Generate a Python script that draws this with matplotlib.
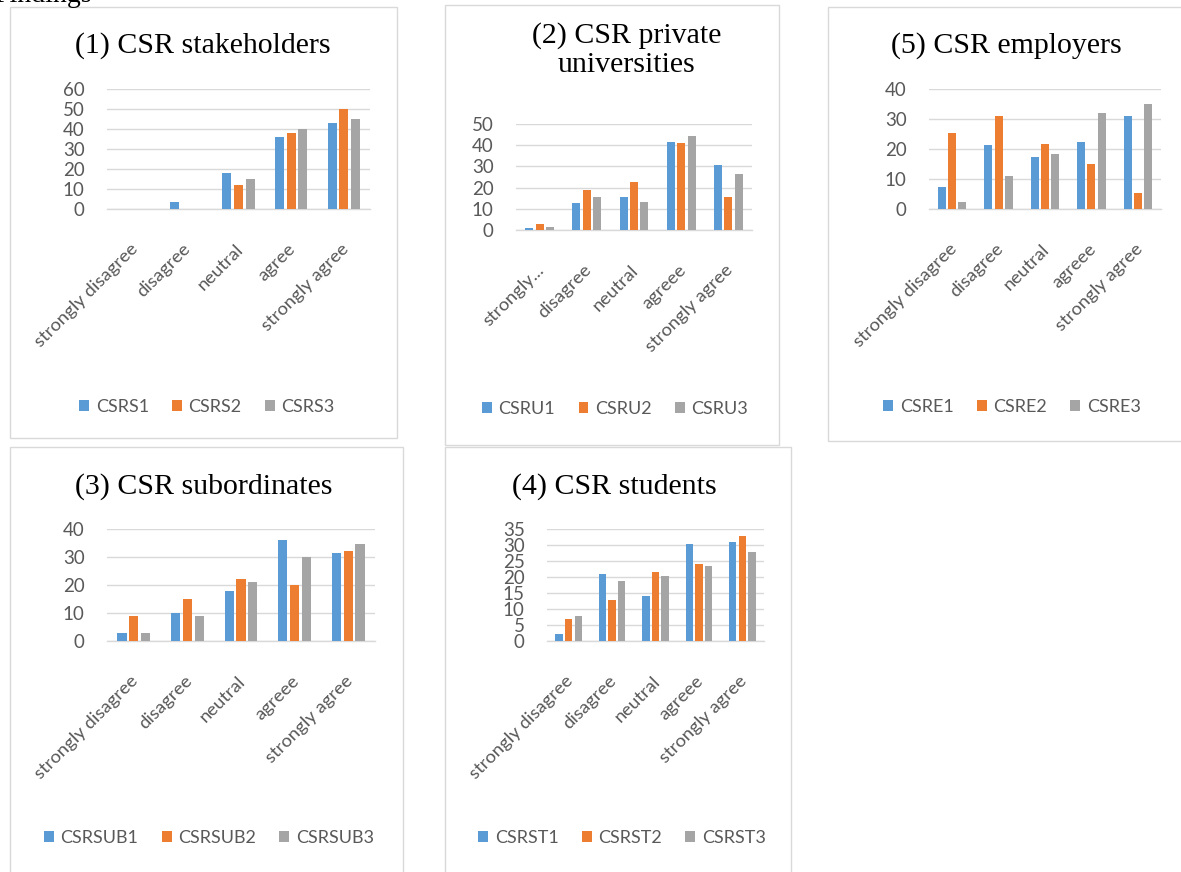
import matplotlib
matplotlib.use("Agg")
import matplotlib.pyplot as plt
from matplotlib.patches import Rectangle
from matplotlib.transforms import ScaledTranslation

W, H = 1181, 872
DPI = 100

# ---- data -------------------------------------------------------------
cats_std = ["strongly disagree", "disagree", "neutral", "agreee", "strongly agree"]
cats_p1 = ["strongly disagree", "disagree", "neutral", "agree", "strongly agree"]
cats_p2 = ["strongly...", "disagree", "neutral", "agreee", "strongly agree"]

stake_names = ["CSRS1", "CSRS2", "CSRS3"]
stake_1 = [0, 3.5, 18, 36, 43]
stake_2 = [0, 0, 12, 38, 50]
stake_3 = [0, 0, 15, 40, 45]

univ_names = ["CSRU1", "CSRU2", "CSRU3"]
univ_1 = [0.8, 12.5, 15.5, 41.5, 30.6]
univ_2 = [3.0, 18.9, 22.6, 40.9, 15.5]
univ_3 = [1.6, 15.5, 13.2, 44.5, 26.3]

empl_names = ["CSRE1", "CSRE2", "CSRE3"]
empl_1 = [7.3, 21.2, 17.2, 22.2, 31]
empl_2 = [25.3, 31, 21.8, 15.1, 5.4]
empl_3 = [2.3, 11, 18.2, 32, 35.1]

subo_names = ["CSRSUB1", "CSRSUB2", "CSRSUB3"]
subo_1 = [3, 10, 17.7, 36, 31.4]
subo_2 = [9, 15, 22, 20, 32]
subo_3 = [3, 9, 21, 30, 34.8]

stud_names = ["CSRST1", "CSRST2", "CSRST3"]
stud_1 = [2.1, 20.8, 14.1, 30.3, 30.8]
stud_2 = [6.9, 12.7, 21.7, 24.2, 32.8]
stud_3 = [7.9, 18.9, 20.2, 23.3, 27.9]

# ---- style ------------------------------------------------------------
COLORS = ["#5B9BD5", "#ED7D31", "#A5A5A5"]
GRID = "#D9D9D9"
TXT = "#595959"
FRAME = "#D9D9D9"
SANS = "Lato"
SERIF = "Liberation Serif"

fig = plt.figure(figsize=(W / DPI, H / DPI), dpi=DPI)
fig.patch.set_facecolor("white")


def fx(x):
    return x / W


def fy(y):
    return 1 - y / H


def frame(x0, y0, x1, y1):
    fig.add_artist(Rectangle((fx(x0), fy(y1)), fx(x1) - fx(x0), fy(y0) - fy(y1),
                             transform=fig.transFigure, fill=False,
                             edgecolor=FRAME, linewidth=1.0))


def panel(box, title, title_xy, cats, series, names, ymax, ystep, legend_xy):
    left, top, right, bottom = box
    ax = fig.add_axes([fx(left), fy(bottom), fx(right) - fx(left), fy(top) - fy(bottom)])
    x = list(range(len(cats)))
    offs = [-0.22, 0.0, 0.22]
    for vals, off, col, name in zip(series, offs, COLORS, names):
        ax.bar([xi + off for xi in x], vals, width=0.17, color=col, label=name, zorder=3)
    ax.set_xlim(-0.5, len(cats) - 0.5)
    ax.set_ylim(0, ymax)
    ax.set_yticks(list(range(0, ymax + 1, ystep)))
    ax.grid(axis="y", color=GRID, linewidth=1.0, zorder=0)
    ax.set_axisbelow(True)
    for s in ["top", "right", "left"]:
        ax.spines[s].set_visible(False)
    ax.spines["bottom"].set_color(GRID)
    ax.spines["bottom"].set_linewidth(1.0)
    ax.tick_params(axis="both", length=0, colors=TXT)
    ax.tick_params(axis="y", pad=16, labelsize=13.5)
    ax.tick_params(axis="x", pad=27, labelsize=13.3)
    for lab in ax.get_yticklabels():
        lab.set_fontfamily(SANS)
    ax.set_xticks(x)
    ax.set_xticklabels(cats, rotation=45, ha="right", va="center",
                       rotation_mode="anchor", fontfamily=SANS)
    shift = ScaledTranslation(2 / DPI, 0, fig.dpi_scale_trans)
    for lab in ax.get_xticklabels():
        lab.set_transform(lab.get_transform() + shift)
    fig.text(fx(title_xy[0]), fy(title_xy[1]), title, ha="center", va="center",
             fontsize=21.5, fontfamily=SERIF, color="black", linespacing=1.15)
    leg = ax.legend(loc="center", bbox_to_anchor=(fx(legend_xy[0]), fy(legend_xy[1])),
                    bbox_transform=fig.transFigure, ncol=3, frameon=False,
                    handlelength=0.55, handleheight=0.55, handletextpad=0.35,
                    columnspacing=1.3, prop={"family": SANS, "size": 13})
    for t in leg.get_texts():
        t.set_color(TXT)
    return ax


# panel borders
frame(10, 7, 397, 438)
frame(445, 5, 779, 445)
frame(828, 7, 1185, 441)
frame(10, 447, 403, 876)
frame(445, 447, 791, 876)

panel((107, 89, 370, 209), "(1) CSR stakeholders", (203, 46), cats_p1,
      [stake_1, stake_2, stake_3], stake_names, 60, 10, (207, 407))
panel((516, 124, 752, 230), "(2) CSR private\nuniversities", (627, 50), cats_p2,
      [univ_1, univ_2, univ_3], univ_names, 50, 10, (615, 409))
panel((929, 89, 1161, 209), "(5) CSR employers", (1006, 46), cats_std,
      [empl_1, empl_2, empl_3], empl_names, 40, 10, (1012, 407))
panel((107, 529, 375, 641), "(3) CSR subordinates", (204, 487), cats_std,
      [subo_1, subo_2, subo_3], subo_names, 40, 10, (209, 838))
panel((547, 529, 764, 641), "(4) CSR students", (614, 487), cats_std,
      [stud_1, stud_2, stud_3], stud_names, 35, 5, (622, 838))

# heading of the page section, cut by the top edge
fig.text(fx(-6), fy(1.5), "Findings", ha="left", va="baseline", fontsize=20,
         fontfamily=SERIF, color="black")

fig.savefig("out.png", dpi=DPI, facecolor="white")
